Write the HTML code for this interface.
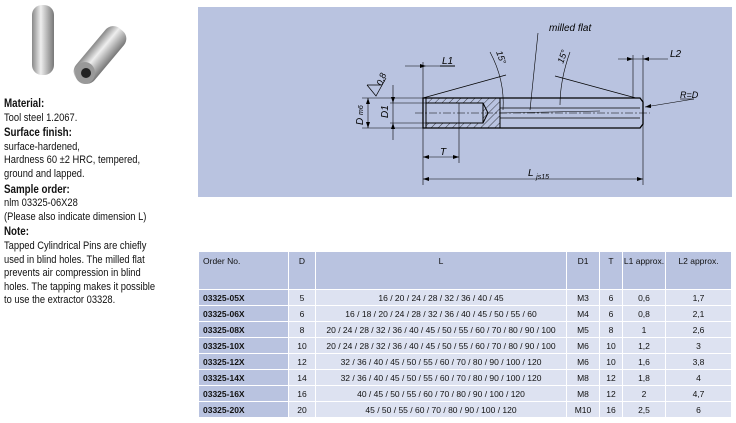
<!DOCTYPE html>
<html><head><meta charset="utf-8"><style>
body{margin:0;width:736px;height:423px;background:#fff;font-family:"Liberation Sans",sans-serif;position:relative;overflow:hidden}
.txt{position:absolute;left:4px;top:96px;font-size:11px;line-height:13.6px;color:#111;width:230px;transform:scaleX(0.85);transform-origin:0 0;white-space:nowrap}
.txt b{display:block;font-size:11.5px;margin-top:2px}
table{position:absolute;left:198px;top:251px;width:534px;border-collapse:collapse;font-size:8.5px;color:#111}
td{border:1px solid #fff;text-align:center;height:15px;padding:0;background:#dde2f1}
tr.h td{background:#b9c3e0;height:33px;vertical-align:top;padding-top:4px}
td.o{background:#b9c3e0;text-align:left;padding-left:4px;font-weight:bold}
tr.h td.o{font-weight:normal}
</style></head><body>
<svg style="position:absolute;left:0;top:0" width="736" height="423">
<defs><linearGradient id="g" x1="0" x2="1"><stop offset="0" stop-color="#888"/><stop offset=".4" stop-color="#eee"/><stop offset="1" stop-color="#777"/></linearGradient>
<pattern id="hp" width="5" height="5" patternUnits="userSpaceOnUse" patternTransform="rotate(45)"><line x1="0" y1="0" x2="0" y2="5" stroke="#000" stroke-width="0.7"/></pattern></defs>
<rect x="32" y="5" width="22" height="70" rx="10" fill="url(#g)"/>
<g transform="rotate(40 100 55)"><rect x="88" y="22" width="24" height="66" rx="10" fill="url(#g)"/></g>
<ellipse cx="85" cy="73" rx="10" ry="11" fill="#999"/><circle cx="86" cy="73" r="5" fill="#222"/>
<rect x="198" y="7" width="534" height="190" fill="#b9c3e0"/>
<g stroke="#000" fill="none" stroke-width="1">
<rect x="426" y="98" width="74" height="30" fill="url(#hp)"/>
<rect x="426" y="103" width="57" height="20" fill="#b9c3e0"/>
<path d="M483 103 L488 113 L483 123"/>
<path d="M423 98 H640 L643 102 V124 L640 128 H423 Z" stroke-width="1.3"/>
<line x1="426" y1="98" x2="426" y2="128"/>
<line x1="500" y1="98" x2="500" y2="128"/>
<line x1="500" y1="108" x2="640" y2="108" stroke-width="0.8"/>
<line x1="500" y1="118" x2="640" y2="118" stroke-width="0.8"/>
<line x1="500" y1="113" x2="600" y2="111" stroke-width="0.5"/>
<line x1="415" y1="113" x2="650" y2="113" stroke-width="0.5" stroke-dasharray="8 2 2 2"/>
<line x1="423" y1="62" x2="423" y2="185" stroke-width="0.6"/>
<line x1="643" y1="55" x2="643" y2="185" stroke-width="0.6"/>
<line x1="633" y1="55" x2="633" y2="98" stroke-width="0.6"/>
<line x1="405" y1="66" x2="455" y2="66" stroke-width="0.6"/><line x1="440" y1="66" x2="455" y2="66"/>
<line x1="618" y1="59" x2="668" y2="59" stroke-width="0.6"/>
<line x1="423" y1="179" x2="643" y2="179" stroke-width="0.6"/>
<line x1="423" y1="157" x2="459" y2="157" stroke-width="0.6"/>
<line x1="459" y1="103" x2="459" y2="163" stroke-width="0.6"/>
<line x1="362" y1="98" x2="423" y2="98" stroke-width="0.6"/>
<line x1="362" y1="128" x2="423" y2="128" stroke-width="0.6"/>
<line x1="368" y1="98" x2="368" y2="128" stroke-width="0.6"/>
<line x1="390" y1="103" x2="426" y2="103" stroke-width="0.6"/>
<line x1="390" y1="123" x2="426" y2="123" stroke-width="0.6"/>
<line x1="393" y1="85" x2="393" y2="140" stroke-width="0.6"/>
<path d="M367 85 L376 96 L386 78 M367 85 H381" stroke-width="0.7"/>
<line x1="423" y1="98" x2="506" y2="75" stroke-width="0.7"/>
<line x1="555" y1="76" x2="636" y2="98" stroke-width="0.7"/>
<path d="M490 52 Q505 80 503 110" stroke-width="0.6"/>
<path d="M570 52 Q560 80 560 105" stroke-width="0.6"/>
<line x1="538" y1="33" x2="530" y2="110" stroke-width="0.6"/>
<line x1="645" y1="107" x2="694" y2="99" stroke-width="0.6"/><line x1="680" y1="99" x2="694" y2="99" stroke-width="0.6"/>
</g>
<g fill="#000">
<path d="M426 66 l-6 -2 v4z"/><path d="M423 179 l6 -2 v4z"/><path d="M643 179 l-6 -2 v4z"/>
<path d="M423 157 l6 -2 v4z"/><path d="M459 157 l-6 -2 v4z"/><path d="M633 59 l-6 -2 v4z"/><path d="M643 59 l6 -2 v4z"/>
<path d="M368 98 l-2 6 h4z"/><path d="M368 128 l-2 -6 h4z"/><path d="M393 103 l-2 -6 h4z"/><path d="M393 123 l-2 6 h4z"/>
<path d="M645 107 l6 -3 v4z"/>
</g>
<g font-family="Liberation Sans" font-style="italic" font-size="10" fill="#000">
<text x="549" y="31">milled flat</text>
<text x="442" y="64">L1</text><text x="670" y="57">L2</text>
<text x="528" y="176">L <tspan font-size="7" dy="3">js15</tspan></text>
<text x="440" y="155">T</text>
<text x="680" y="98" font-size="9">R=D</text>
<text x="375" y="84" font-size="9" transform="rotate(-70 380 80)">0,8</text>
<text transform="translate(363 125) rotate(-90)">D <tspan font-size="7">m6</tspan></text>
<text transform="translate(388 118) rotate(-90)">D1</text>
<text transform="translate(496 52) rotate(70)" font-size="9">15°</text>
<text transform="translate(563 64) rotate(-70)" font-size="9">15°</text>
</g>
</svg>
<div class="txt"><b>Material:</b>Tool steel 1.2067.<b>Surface finish:</b>surface-hardened,<br>Hardness 60 ±2 HRC, tempered,<br>ground and lapped.<b>Sample order:</b>nlm 03325-06X28<br>(Please also indicate dimension L)<b>Note:</b>Tapped Cylindrical Pins are chiefly<br>used in blind holes. The milled flat<br>prevents air compression in blind<br>holes. The tapping makes it possible<br>to use the extractor 03328.</div>
<table>
<colgroup><col style="width:90px"><col style="width:27px"><col style="width:251px"><col style="width:33px"><col style="width:23px"><col style="width:43px"><col></colgroup>
<tr class="h"><td class="o">Order No.</td><td>D</td><td>L</td><td>D1</td><td>T</td><td>L1 approx.</td><td>L2 approx.</td></tr>
<tr><td class="o">03325-05X</td><td>5</td><td>16 / 20 / 24 / 28 / 32 / 36 / 40 / 45</td><td>M3</td><td>6</td><td>0,6</td><td>1,7</td></tr>
<tr><td class="o">03325-06X</td><td>6</td><td>16 / 18 / 20 / 24 / 28 / 32 / 36 / 40 / 45 / 50 / 55 / 60</td><td>M4</td><td>6</td><td>0,8</td><td>2,1</td></tr>
<tr><td class="o">03325-08X</td><td>8</td><td>20 / 24 / 28 / 32 / 36 / 40 / 45 / 50 / 55 / 60 / 70 / 80 / 90 / 100</td><td>M5</td><td>8</td><td>1</td><td>2,6</td></tr>
<tr><td class="o">03325-10X</td><td>10</td><td>20 / 24 / 28 / 32 / 36 / 40 / 45 / 50 / 55 / 60 / 70 / 80 / 90 / 100</td><td>M6</td><td>10</td><td>1,2</td><td>3</td></tr>
<tr><td class="o">03325-12X</td><td>12</td><td>32 / 36 / 40 / 45 / 50 / 55 / 60 / 70 / 80 / 90 / 100 / 120</td><td>M6</td><td>10</td><td>1,6</td><td>3,8</td></tr>
<tr><td class="o">03325-14X</td><td>14</td><td>32 / 36 / 40 / 45 / 50 / 55 / 60 / 70 / 80 / 90 / 100 / 120</td><td>M8</td><td>12</td><td>1,8</td><td>4</td></tr>
<tr><td class="o">03325-16X</td><td>16</td><td>40 / 45 / 50 / 55 / 60 / 70 / 80 / 90 / 100 / 120</td><td>M8</td><td>12</td><td>2</td><td>4,7</td></tr>
<tr><td class="o">03325-20X</td><td>20</td><td>45 / 50 / 55 / 60 / 70 / 80 / 90 / 100 / 120</td><td>M10</td><td>16</td><td>2,5</td><td>6</td></tr>
</table>
</body></html>
